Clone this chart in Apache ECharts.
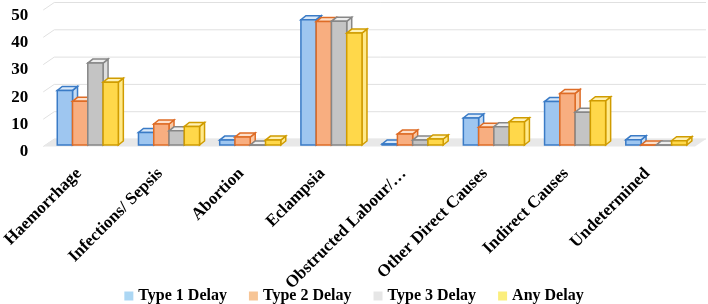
<!DOCTYPE html>
<html>
<head>
<meta charset="utf-8">
<script src="https://cdn.jsdelivr.net/npm/echarts@6/dist/echarts.min.js"></script>
<style>
  html, body { margin: 0; padding: 0; background: #fff; }
  #main { width: 708px; height: 304px; }
</style>
</head>
<body>
<div id="main"></div>
<script>
// percentages per cause of death
var categories = ['Haemorrhage', 'Infections/ Sepsis', 'Abortion', 'Eclampsia',
  'Obstructed Labour/\u2026', 'Other Direct Causes', 'Indirect Causes', 'Undetermined']
var type1Delay = [20, 4.6, 1.8, 45.9, 0.4, 9.9, 15.9, 1.9]
var type2Delay = [16, 7.7, 2.9, 45.2, 4, 6.5, 18.9, 0]
var type3Delay = [30, 5.2, 0, 45.3, 1.8, 6.7, 12, 0]
var anyDelay = [23, 6.8, 1.8, 41, 2.2, 8.5, 16.2, 1.6]
var seriesNames = ['Type 1 Delay', 'Type 2 Delay', 'Type 3 Delay', 'Any Delay']
var yTicks = [0, 10, 20, 30, 40, 50]

var palettes = [
  { line: '#3a7bc6', front: '#9ec6f0', top: '#dae9f9', side: '#c4dcf5', legend: '#acd7f4' },
  { line: '#de6c26', front: '#f8ae80', top: '#fde0cb', side: '#fbc9a5', legend: '#f7c596' },
  { line: '#878787', front: '#c4c4c4', top: '#eeeeee', side: '#dedede', legend: '#e6e6e6' },
  { line: '#d09c00', front: '#ffd84a', top: '#fff1b3', side: '#ffe98a', legend: '#fbee7c' }
]

var font = 'Liberation Serif, Times New Roman, serif'
var DX = 11, DY = -7.5   // depth of the back wall

function cuboid (s) {
  var pal = palettes[s]
  return function (params, api) {
    var i = api.value(0), v = api.value(1)
    var base = api.coord([i, 0])
    var top = api.coord([i, v])
    var bw = api.size([1, 0])[0]
    var w = bw * 0.188, dx = 5, dy = -4
    var x = base[0] + bw * 0.11 - 2 * w + s * w
    var yb = base[1], yt = top[1]
    var st = function (fill) { return { fill: fill, stroke: pal.line, lineWidth: 1.5 } }
    return {
      type: 'group',
      children: [
        { type: 'polygon', shape: { points: [[x + w, yt], [x + w + dx, yt + dy], [x + w + dx, yb + dy], [x + w, yb]] }, style: st(pal.side) },
        { type: 'polygon', shape: { points: [[x, yt], [x + w, yt], [x + w + dx, yt + dy], [x + dx, yt + dy]] }, style: st(pal.top) },
        { type: 'rect', shape: { x: x, y: yt, width: w, height: yb - yt }, style: st(pal.front) }
      ]
    }
  }
}

function edges (api, v) {
  var bw = api.size([1, 0])[0]
  var l = api.coord([0, v])
  var r = api.coord([categories.length - 1, v])
  return { xl: l[0] - bw / 2 + 5, xr: r[0] + bw / 2 + 7, y: l[1] }
}

var series = [
  {
    type: 'custom',
    name: 'grid',
    silent: true,
    z: 0,
    data: yTicks.map(function (t) { return [0, t] }),
    renderItem: function (params, api) {
      var e = edges(api, api.value(1))
      return {
        type: 'polyline',
        shape: { points: [[e.xl, e.y + 1.5], [e.xl + DX, e.y + 1.5 + DY], [e.xr + DX, e.y + 1.5 + DY]] },
        style: { stroke: '#e0e0e0', lineWidth: 1, fill: null }
      }
    }
  },
  {
    type: 'custom',
    name: 'floor',
    silent: true,
    z: 1,
    data: [[0, 0]],
    renderItem: function (params, api) {
      var e = edges(api, 0)
      var y = e.y + 1.5
      return {
        type: 'polygon',
        shape: { points: [[e.xl, y], [e.xr, y], [e.xr + DX, y + DY], [e.xl + DX, y + DY]] },
        style: { fill: '#e8e8e8' }
      }
    }
  }
]

var values = [type1Delay, type2Delay, type3Delay, anyDelay]
values.forEach(function (arr, s) {
  series.push({
    type: 'custom',
    name: seriesNames[s],
    z: 2,
    itemStyle: { color: palettes[s].legend },
    data: arr.map(function (v, i) { return [i, v] }),
    renderItem: cuboid(s)
  })
})

var chart = echarts.init(document.getElementById('main'))
chart.setOption({
  animation: false,
  grid: { left: 27, right: 20, top: 8.5, bottom: 159 },
  legend: {
    data: seriesNames,
    top: 283,
    left: 'center',
    icon: 'rect',
    itemWidth: 9,
    itemHeight: 9,
    itemGap: 22,
    textStyle: { fontFamily: font, fontWeight: 'bold', fontSize: 16, color: '#000' }
  },
  xAxis: {
    type: 'category',
    data: categories,
    axisLine: { show: false },
    axisTick: { show: false },
    axisLabel: {
      interval: 0,
      rotate: 45,
      margin: 26,
      fontFamily: font,
      fontWeight: 'bold',
      fontSize: 17,
      color: '#000'
    }
  },
  yAxis: {
    type: 'value',
    min: 0,
    max: 50,
    interval: 10,
    axisLine: { show: false },
    axisTick: { show: false },
    splitLine: { show: false },
    axisLabel: {
      margin: 10,
      formatter: '{v|{value}}',
      rich: {
        v: {
          padding: [14, 0, 0, 0],
          fontFamily: font,
          fontWeight: 'bold',
          fontSize: 17,
          color: '#000'
        }
      }
    }
  },
  series: series
})
</script>
</body>
</html>
